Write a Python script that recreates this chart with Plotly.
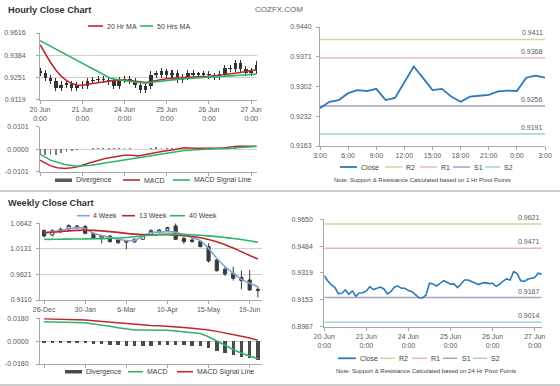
import plotly.graph_objects as go

W, H = 560, 386
FONT = "Liberation Sans, Arial, sans-serif"
GRID = "#D0D0D0"
AXC = "#A6A6A6"
TXT = "#595959"
RED = "#C0282D"
GREEN = "#2DB36A"
LBLUE = "#7FA6D3"
BLUE = "#2A7AB9"
R2C, R1C, S1C, S2C = "#D6D39E", "#E4B7BC", "#A6A3C2", "#9CD2E0"
CANDLE = "#3A3A3A"

# ---------------- Hourly close chart (20 Jun 0:00 .. 27 Jun 3:00, trading hours) ----------------
h_hours = [0, 3, 6, 9, 12, 15, 18, 21, 24, 27, 30, 33, 36, 39, 42, 45, 48, 51, 54, 57, 60,
           63, 66, 69, 72, 75, 78, 81, 84, 87, 90, 93, 96, 99, 102, 105, 108, 111, 114, 117, 120, 123]
h_open = [0.9290, 0.9277, 0.9247, 0.9229, 0.9188, 0.9207, 0.9210, 0.9188, 0.9207, 0.9200, 0.9228,
          0.9235, 0.9240, 0.9235, 0.9228, 0.9200, 0.9235, 0.9241, 0.9231, 0.9207, 0.9176, 0.9200,
          0.9267, 0.9267, 0.9287, 0.9267, 0.9277, 0.9235, 0.9255, 0.9277, 0.9267, 0.9267, 0.9270,
          0.9263, 0.9255, 0.9272, 0.9307, 0.9300, 0.9337, 0.9300, 0.9277, 0.9287]
h_high = [0.9310, 0.9297, 0.9266, 0.9246, 0.9227, 0.9230, 0.9228, 0.9226, 0.9227, 0.9248, 0.9255,
          0.9260, 0.9259, 0.9254, 0.9246, 0.9255, 0.9261, 0.9258, 0.9250, 0.9224, 0.9219, 0.9287,
          0.9288, 0.9307, 0.9304, 0.9297, 0.9293, 0.9274, 0.9296, 0.9294, 0.9286, 0.9289, 0.9287,
          0.9280, 0.9291, 0.9326, 0.9324, 0.9357, 0.9353, 0.9318, 0.9306, 0.9348]
h_low = [0.9257, 0.9228, 0.9209, 0.9168, 0.9170, 0.9188, 0.9167, 0.9171, 0.9180, 0.9182, 0.9209,
         0.9216, 0.9215, 0.9208, 0.9180, 0.9182, 0.9216, 0.9212, 0.9187, 0.9155, 0.9157, 0.9184,
         0.9247, 0.9249, 0.9247, 0.9248, 0.9216, 0.9218, 0.9238, 0.9248, 0.9247, 0.9249, 0.9244,
         0.9236, 0.9238, 0.9254, 0.9281, 0.9282, 0.9280, 0.9258, 0.9260, 0.9270]
h_close = [0.9277, 0.9247, 0.9229, 0.9188, 0.9207, 0.9210, 0.9188, 0.9207, 0.9200, 0.9228, 0.9235,
           0.9240, 0.9235, 0.9228, 0.9200, 0.9235, 0.9241, 0.9231, 0.9207, 0.9176, 0.9200, 0.9267,
           0.9267, 0.9287, 0.9267, 0.9277, 0.9235, 0.9255, 0.9277, 0.9267, 0.9267, 0.9270, 0.9263,
           0.9255, 0.9272, 0.9307, 0.9300, 0.9337, 0.9300, 0.9277, 0.9287, 0.9327]

ma20_hours = [0, 3, 6, 9, 12, 15, 18, 21, 24, 30, 36, 42, 48, 54, 60, 66, 72, 78, 84, 90, 96,
              102, 108, 114, 120, 123]
ma20 = [0.9446, 0.9392, 0.9340, 0.9295, 0.9258, 0.9233, 0.9214, 0.9206, 0.9204, 0.9215, 0.9226,
        0.9233, 0.9236, 0.9226, 0.9220, 0.9232, 0.9243, 0.9248, 0.9250, 0.9254, 0.9258, 0.9264,
        0.9270, 0.9280, 0.9292, 0.9297]
ma50_hours = [0, 6, 12, 18, 24, 30, 36, 40, 48, 54, 60, 66, 72, 78, 84, 90, 96, 102, 108, 114, 120, 123]
ma50 = [0.9470, 0.9436, 0.9402, 0.9368, 0.9334, 0.9300, 0.9266, 0.9246, 0.9231, 0.9223, 0.9216,
        0.9225, 0.9234, 0.9239, 0.9244, 0.9249, 0.9253, 0.9257, 0.9260, 0.9264, 0.9269, 0.9271]

h_div = [-0.0025, -0.0027, -0.0027, -0.0024, -0.0018, -0.0013, -0.0008, -0.0004, 0.0000, 0.0003,
         0.0005, 0.0006, 0.0007, 0.0006, 0.0005, 0.0006, 0.0006, 0.0004, 0.0002, 0.0000, 0.0002,
         0.0006, 0.0008, 0.0007, 0.0006, 0.0004, 0.0003, 0.0004, 0.0003, 0.0002, 0.0002, 0.0001,
         0.0001, 0.0001, 0.0002, 0.0003, 0.0003, 0.0004, 0.0002, 0.0001, 0.0001, 0.0002]
h_macd_hours = [0, 3, 6, 10, 14, 18, 22, 27, 32, 37, 42, 48, 52, 56, 60, 65, 70, 75, 82, 88, 94,
                100, 105, 112, 116, 123]
h_macd = [-0.0049, -0.0063, -0.0075, -0.0083, -0.0087, -0.0083, -0.0078, -0.0064, -0.0053, -0.0042,
          -0.0035, -0.0027, -0.0027, -0.0030, -0.0024, -0.0015, -0.0009, -0.0004, 0.0006, 0.0004,
          0.0003, 0.0004, 0.0006, 0.0013, 0.0013, 0.0013]
h_sig_hours = [0, 6, 14, 21, 29, 40, 55, 71, 82, 94, 105, 123]
h_sig = [-0.0022, -0.0049, -0.0069, -0.0076, -0.0072, -0.0057, -0.0039, -0.0019, -0.0006, 0.0000,
         0.0003, 0.0012]

day_ticks = [0, 24, 48, 72, 96, 120]
day_labels = ["20 Jun<br>0:00", "21 Jun<br>0:00", "24 Jun<br>0:00", "25 Jun<br>0:00",
              "26 Jun<br>0:00", "27 Jun<br>0:00"]

# ---------------- 1 Hr pivot chart ----------------
p1_hours = list(range(25))
p1_close = [0.9251, 0.9266, 0.9270, 0.9286, 0.9293, 0.9291, 0.9296, 0.9270, 0.9275, 0.9313, 0.9348,
            0.9321, 0.9293, 0.9296, 0.9278, 0.9266, 0.9278, 0.9280, 0.9282, 0.9290, 0.9292, 0.9291,
            0.9322, 0.9327, 0.9322]
p1_levels = {"R2": 0.9411, "R1": 0.9368, "S1": 0.9256, "S2": 0.9191}
p1_ticks = [0, 3, 6, 9, 12, 15, 18, 21, 24]
p1_ticklabels = ["3:00", "6:00", "9:00", "12:00", "15:00", "18:00", "21:00", "0:00", "3:00"]

# ---------------- Weekly close chart ----------------
weeks = ["26-Dec", "2-Jan", "9-Jan", "16-Jan", "23-Jan", "30-Jan", "6-Feb", "13-Feb", "20-Feb",
         "27-Feb", "6-Mar", "13-Mar", "20-Mar", "27-Mar", "3-Apr", "10-Apr", "17-Apr", "24-Apr",
         "1-May", "8-May", "15-May", "22-May", "29-May", "5-Jun", "12-Jun", "19-Jun", "26-Jun"]
w_open = [1.0496, 1.0409, 1.0475, 1.0529, 1.0555, 1.0575, 1.0442, 1.0342, 1.0389, 1.0309, 1.0262,
          1.0269, 1.0322, 1.0409, 1.0462, 1.0496, 1.0589, 1.0342, 1.0309, 1.0276, 1.0176, 0.9909,
          0.9723, 0.9643, 0.9563, 0.9510, 0.9324]
w_high = [1.0522, 1.0522, 1.0555, 1.0622, 1.0609, 1.0609, 1.0456, 1.0409, 1.0409, 1.0342, 1.0309,
          1.0342, 1.0429, 1.0522, 1.0529, 1.0575, 1.0642, 1.0376, 1.0356, 1.0309, 1.0242, 0.9929,
          0.9776, 0.9776, 0.9696, 0.9710, 0.9377]
w_low = [1.0362, 1.0376, 1.0442, 1.0509, 1.0535, 1.0422, 1.0322, 1.0242, 1.0256, 1.0229, 1.0122,
         1.0249, 1.0309, 1.0389, 1.0449, 1.0482, 1.0309, 1.0229, 1.0256, 1.0162, 0.9856, 0.9676,
         0.9590, 0.9497, 0.9324, 0.9297, 0.9164]
w_close = [1.0389, 1.0496, 1.0522, 1.0595, 1.0589, 1.0442, 1.0342, 1.0389, 1.0276, 1.0256, 1.0289,
           1.0322, 1.0409, 1.0496, 1.0509, 1.0555, 1.0322, 1.0276, 1.0276, 1.0176, 0.9889, 0.9696,
           0.9630, 0.9543, 0.9497, 0.9310, 0.9303]
w_ma4 = [1.0456, 1.0476, 1.0496, 1.0530, 1.0555, 1.0535, 1.0442, 1.0400, 1.0362, 1.0325, 1.0296,
         1.0305, 1.0376, 1.0456, 1.0466, 1.0475, 1.0462, 1.0409, 1.0356, 1.0296, 1.0142, 0.9943,
         0.9776, 0.9643, 0.9523, 0.9443, 0.9377]
w_ma13 = [1.0450, 1.0462, 1.0475, 1.0490, 1.0500, 1.0505, 1.0500, 1.0490, 1.0475, 1.0460, 1.0440,
          1.0425, 1.0415, 1.0410, 1.0412, 1.0412, 1.0405, 1.0395, 1.0378, 1.0355, 1.0320, 1.0275,
          1.0215, 1.0150, 1.0075, 1.0000, 0.9929]
w_ma40 = [1.0322, 1.0322, 1.0324, 1.0326, 1.0328, 1.0330, 1.0332, 1.0335, 1.0340, 1.0348, 1.0358,
          1.0372, 1.0390, 1.0408, 1.0420, 1.0425, 1.0425, 1.0420, 1.0412, 1.0402, 1.0390, 1.0375,
          1.0358, 1.0340, 1.0318, 1.0292, 1.0262]
w_macd = [0.0153, 0.0152, 0.0151, 0.0150, 0.0148, 0.0144, 0.0136, 0.0128, 0.0118, 0.0105, 0.0094,
          0.0088, 0.0087, 0.0088, 0.0090, 0.0086, 0.0080, 0.0074, 0.0068, 0.0060, 0.0035, 0.0000,
          -0.0030, -0.0066, -0.0095, -0.0120, -0.0139]
w_sig = [0.0176, 0.0175, 0.0173, 0.0171, 0.0169, 0.0166, 0.0161, 0.0155, 0.0149, 0.0143, 0.0137,
         0.0131, 0.0127, 0.0124, 0.0121, 0.0118, 0.0114, 0.0108, 0.0102, 0.0097, 0.0088, 0.0077,
         0.0066, 0.0054, 0.0039, 0.0024, 0.0008]
w_div = [-0.0012, -0.0012, -0.0014, -0.0014, -0.0016, -0.0018, -0.0022, -0.0026, -0.0030, -0.0034,
         -0.0038, -0.0040, -0.0040, -0.0036, -0.0032, -0.0032, -0.0034, -0.0034, -0.0036, -0.0040,
         -0.0055, -0.0075, -0.0090, -0.0108, -0.0122, -0.0135, -0.0148]
week_ticks = [0, 5, 10, 15, 20, 25]

# ---------------- 24 Hr pivot chart ----------------
p24_hours = list(range(0, 125, 2))
p24_close = [0.9302, 0.9269, 0.9245, 0.9230, 0.9191, 0.9193, 0.9214, 0.9187, 0.9208, 0.9175, 0.9195,
             0.9197, 0.9208, 0.9234, 0.9216, 0.9226, 0.9232, 0.9220, 0.9189, 0.9203, 0.9232, 0.9238,
             0.9224, 0.9224, 0.9210, 0.9203, 0.9183, 0.9166, 0.9164, 0.9183, 0.9255, 0.9251, 0.9238,
             0.9257, 0.9271, 0.9261, 0.9249, 0.9251, 0.9228, 0.9251, 0.9275, 0.9275, 0.9267, 0.9257,
             0.9247, 0.9257, 0.9259, 0.9253, 0.9255, 0.9236, 0.9249, 0.9269, 0.9282, 0.9275, 0.9327,
             0.9315, 0.9271, 0.9267, 0.9280, 0.9286, 0.9290, 0.9317, 0.9310]
p24_levels = {"R2": 0.9621, "R1": 0.9471, "S1": 0.9167, "S2": 0.9014}


def px(x):
    return x / W


def py(y):
    return 1 - y / H


def axis(domain, rng, tickvals, ticktext, anchor, grid=False, labels=True, standoff=None):
    d = dict(domain=domain, range=rng, tickvals=tickvals, ticktext=ticktext, anchor=anchor,
             showgrid=grid, gridcolor=GRID, gridwidth=1, showline=True, linecolor=AXC,
             linewidth=1, ticks="outside", ticklen=3, tickcolor=AXC, automargin=False,
             tickfont=dict(size=7, color=TXT, family=FONT), zeroline=False,
             showticklabels=labels, fixedrange=True)
    if standoff is not None:
        d["ticklabelstandoff"] = standoff
    return d


fig = go.Figure()

# Hourly price: candles drawn as wick bars + body bars
wick_len = [hi - lo for hi, lo in zip(h_high, h_low)]
body_base = [min(o, c) for o, c in zip(h_open, h_close)]
body_len = [max(abs(c - o), 0.0008) for o, c in zip(h_open, h_close)]
fig.add_trace(go.Bar(x=h_hours, y=wick_len, base=h_low, width=0.6,
                     marker=dict(color="#2E2E2E", line=dict(width=0)), xaxis="x", yaxis="y"))
fig.add_trace(go.Bar(x=h_hours, y=body_len, base=body_base, width=2.0,
                     marker=dict(color="#333333", line=dict(width=0)), xaxis="x", yaxis="y"))
fig.add_trace(go.Scatter(x=ma20_hours, y=ma20, mode="lines", line=dict(color=RED, width=1.6),
                         xaxis="x", yaxis="y"))
fig.add_trace(go.Scatter(x=ma50_hours, y=ma50, mode="lines", line=dict(color=GREEN, width=1.6),
                         xaxis="x", yaxis="y"))
# Hourly MACD
fig.add_trace(go.Bar(x=h_hours, y=h_div, width=1.0, marker=dict(color="#7A7A7A", line=dict(width=0)),
                     xaxis="x2", yaxis="y2"))
fig.add_trace(go.Scatter(x=h_macd_hours, y=h_macd, mode="lines", line=dict(color=RED, width=1.5),
                         xaxis="x2", yaxis="y2"))
fig.add_trace(go.Scatter(x=h_sig_hours, y=h_sig, mode="lines", line=dict(color=GREEN, width=1.5),
                         xaxis="x2", yaxis="y2"))
# 1 Hr pivots
for name, col in (("R2", R2C), ("R1", R1C), ("S1", S1C), ("S2", S2C)):
    v = p1_levels[name]
    fig.add_trace(go.Scatter(x=[0, 24], y=[v, v], mode="lines", line=dict(color=col, width=1.5),
                             xaxis="x3", yaxis="y3"))
fig.add_trace(go.Scatter(x=p1_hours, y=p1_close, mode="lines", line=dict(color=BLUE, width=1.8),
                         xaxis="x3", yaxis="y3"))
# Weekly price
wx = list(range(len(weeks)))
fig.add_trace(go.Candlestick(x=wx, open=w_open, high=w_high, low=w_low, close=w_close,
                             xaxis="x4", yaxis="y4", whiskerwidth=0,
                             increasing=dict(line=dict(color=CANDLE, width=1), fillcolor="white"),
                             decreasing=dict(line=dict(color=CANDLE, width=1), fillcolor=CANDLE)))
fig.add_trace(go.Scatter(x=wx, y=w_ma4, mode="lines", line=dict(color=LBLUE, width=1.6, shape="spline"),
                         xaxis="x4", yaxis="y4"))
fig.add_trace(go.Scatter(x=wx, y=w_ma13, mode="lines", line=dict(color=RED, width=1.6, shape="spline"),
                         xaxis="x4", yaxis="y4"))
fig.add_trace(go.Scatter(x=wx, y=w_ma40, mode="lines", line=dict(color=GREEN, width=1.6, shape="spline"),
                         xaxis="x4", yaxis="y4"))
# Weekly MACD
fig.add_trace(go.Bar(x=wx, y=w_div, width=0.42, marker=dict(color="#4A4A4A", line=dict(width=0)),
                     xaxis="x5", yaxis="y5"))
fig.add_trace(go.Scatter(x=wx, y=w_macd, mode="lines", line=dict(color=GREEN, width=1.5),
                         xaxis="x5", yaxis="y5"))
fig.add_trace(go.Scatter(x=wx, y=w_sig, mode="lines", line=dict(color=RED, width=1.5),
                         xaxis="x5", yaxis="y5"))
# 24 Hr pivots
for name, col in (("R2", R2C), ("R1", R1C), ("S1", S1C), ("S2", S2C)):
    v = p24_levels[name]
    fig.add_trace(go.Scatter(x=[0, 124], y=[v, v], mode="lines", line=dict(color=col, width=1.5),
                             xaxis="x6", yaxis="y6"))
fig.add_trace(go.Scatter(x=p24_hours, y=p24_close, mode="lines", line=dict(color=BLUE, width=1.6),
                         xaxis="x6", yaxis="y6"))

# Axes
xa1 = axis([px(40), px(257)], [0, 123.3], day_ticks, day_labels, "y")
ya1 = axis([py(99.5), py(33)], [0.9119, 0.9516], [0.9119, 0.9251, 0.9384, 0.9516],
           ["0.9119", "0.9251", "0.9384", "0.9616"], "x", grid=True, standoff=9)
xa2 = axis([px(40), px(257)], [0, 123.3], day_ticks, day_labels, "y2", labels=False)
ya2 = axis([py(171.7), py(126.7)], [-0.0101, 0.0101], [-0.0101, 0, 0.0101],
           ["-0.0101", "0.0000", "0.0101"], "x2", grid=True, standoff=6)
xa3 = axis([px(320), px(545)], [0, 24], p1_ticks, p1_ticklabels, "y3")
ya3 = axis([py(146), py(27)], [0.9163, 0.9440], [0.9163, 0.9232, 0.9302, 0.9371, 0.9440],
           ["0.9163", "0.9232", "0.9302", "0.9371", "0.9440"], "x3", standoff=3)
xa4 = axis([px(40), px(262)], [-0.5, 26.5], week_ticks, [weeks[i] for i in week_ticks], "y4")
xa4["rangeslider"] = dict(visible=False)
ya4 = axis([py(300), py(223.3)], [0.9110, 1.0642], [0.9110, 0.9621, 1.0131, 1.0642],
           ["0.9110", "0.9621", "1.0131", "1.0642"], "x4", grid=True, standoff=3)
xa5 = axis([px(40), px(262)], [-0.5, 26.5], week_ticks, [weeks[i] for i in week_ticks], "y5", labels=False)
ya5 = axis([py(364), py(318.3)], [-0.018, 0.018], [-0.018, 0, 0.018],
           ["-0.0180", "0.0000", "0.0180"], "x5", grid=True, standoff=6)
xa6 = axis([px(324.3), px(541.7)], [0, 124], day_ticks, day_labels, "y6")
ya6 = axis([py(326.7), py(219.3)], [0.8987, 0.9650], [0.8987, 0.9153, 0.9319, 0.9484, 0.9650],
           ["0.8987", "0.9153", "0.9319", "0.9484", "0.9650"], "x6", standoff=6)

ann = []
shapes = []


def text(x, y, s, size=7, color="#404040", anchor="left"):
    ann.append(dict(x=px(x), y=py(y), xref="paper", yref="paper", text=s, showarrow=False,
                    xanchor=anchor, yanchor="middle", font=dict(size=size, color=color, family=FONT)))


def seg(x0, x1, y, color, width=1.6):
    shapes.append(dict(type="line", xref="paper", yref="paper", x0=px(x0), x1=px(x1), y0=py(y),
                       y1=py(y), line=dict(color=color, width=width)))


def rect(x0, x1, y0, y1, color):
    shapes.append(dict(type="rect", xref="paper", yref="paper", x0=px(x0), x1=px(x1), y0=py(y1),
                       y1=py(y0), line=dict(width=0), fillcolor=color))


# Titles
text(6, 10, "<b>Hourly Close Chart</b>", size=9.2, color="#333333")
text(6, 202.5, "<b>Weekly Close Chart</b>", size=9.2, color="#333333")
text(253, 10, "COZFX.COM", size=8, color="#666666")

# Separators
seg(0, 560, 191, "#BDBDBD", 1.5)
seg(0, 560, 385, "#BDBDBD", 1.5)

# Hourly legends
seg(88, 103, 26, RED); text(105, 26, "20 Hr MA")
seg(140, 153, 26, GREEN); text(155, 26, "50 Hrs MA")
rect(55, 72, 178.5, 182, "#5A5A5A"); text(74, 180, "Divergence")
seg(123, 140, 180, RED); text(142, 180, "MACD")
seg(173, 190, 180, GREEN); text(192, 180, "MACD Signal Line")

# 1 Hr pivot legend
seg(340, 357, 167, BLUE, 1.8); text(359, 167, "Close")
seg(385, 402, 167, R2C, 1.5); text(404, 167, "R2")
seg(420, 437, 167, R1C, 1.5); text(439, 167, "R1")
seg(453, 470, 167, S1C, 1.5); text(472, 167, "S1")
seg(485, 500, 167, S2C, 1.5); text(502, 167, "S2")
text(422, 180, "Note: Support &amp; Resistance Calculated based on 1 Hr Pivot Points", size=6,
     anchor="center")

# Weekly legends
seg(77, 90, 215.7, LBLUE); text(91, 215.7, "4 Week")
seg(122, 135, 215.7, RED); text(137, 215.7, "13 Week")
seg(170, 185, 215.7, GREEN); text(187, 215.7, "40 Week")
rect(65, 82, 370, 373.5, "#4A4A4A"); text(84, 371.7, "Divergence")
seg(128, 143, 371.7, GREEN); text(145, 371.7, "MACD")
seg(177, 193, 371.7, RED); text(195, 371.7, "MACD Signal Line")

# 24 Hr pivot legend
seg(338, 356, 358.3, BLUE, 1.8); text(358, 358.3, "Close")
seg(380, 395, 358.3, R2C, 1.5); text(397, 358.3, "R2")
seg(412, 427, 358.3, R1C, 1.5); text(429, 358.3, "R1")
seg(443, 457, 358.3, S1C, 1.5); text(460, 358.3, "S1")
seg(473, 487, 358.3, S2C, 1.5); text(489, 358.3, "S2")
text(426, 371, "Note: Support &amp; Resistance Calculated based on 24 Hr Pivot Points", size=6,
     anchor="center")

# Pivot value labels
for name in ("R2", "R1", "S1", "S2"):
    v = p1_levels[name]
    ann.append(dict(x=24, y=v, xref="x3", yref="y3", text=f"{v:.4f}", showarrow=False,
                    xanchor="right", yanchor="bottom", yshift=1,
                    font=dict(size=7, color=TXT, family=FONT)))
    v = p24_levels[name]
    ann.append(dict(x=124, y=v, xref="x6", yref="y6", text=f"{v:.4f}", showarrow=False,
                    xanchor="right", yanchor="bottom", yshift=1,
                    font=dict(size=7, color=TXT, family=FONT)))

fig.update_layout(
    width=W, height=H, autosize=False, margin=dict(l=0, r=0, t=0, b=0, pad=0),
    paper_bgcolor="white", plot_bgcolor="white", showlegend=False,
    boxgap=0.45, bargap=0, barmode="overlay",
    font=dict(family=FONT, size=7, color=TXT),
    xaxis=xa1, yaxis=ya1, xaxis2=xa2, yaxis2=ya2, xaxis3=xa3, yaxis3=ya3,
    xaxis4=xa4, yaxis4=ya4, xaxis5=xa5, yaxis5=ya5, xaxis6=xa6, yaxis6=ya6,
    annotations=ann, shapes=shapes,
)

fig.write_html("out.html", config={"displayModeBar": False, "staticPlot": True},
               post_script="document.body.style.margin='0';document.body.style.padding='0';"
                           "document.documentElement.style.overflow='hidden';")
